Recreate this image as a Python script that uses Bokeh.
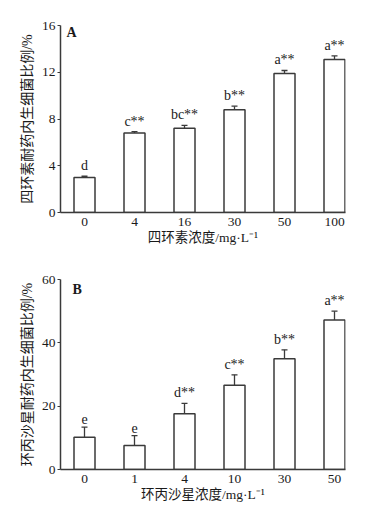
from bokeh.plotting import figure
from bokeh.layouts import column
from bokeh.models import Range1d, FixedTicker, ColumnDataSource, Label
from bokeh.embed import file_html
from bokeh.resources import INLINE
from bokeh.core.properties import value

# Panel A: tetracycline
a_cats = ["0", "4", "16", "30", "50", "100"]
a_vals = [3.0, 6.8, 7.2, 8.8, 11.9, 13.1]
a_errs = [0.1, 0.12, 0.25, 0.3, 0.25, 0.3]
a_sig = ["d", "c**", "bc**", "b**", "a**", "a**"]
a_ticks = [0, 4, 8, 12, 16]

# Panel B: ciprofloxacin
b_cats = ["0", "1", "4", "10", "30", "50"]
b_vals = [10.2, 7.6, 17.6, 26.6, 35.0, 47.2]
b_errs = [3.2, 3.1, 3.3, 3.3, 2.8, 2.8]
b_sig = ["e", "e", "d**", "c**", "b**", "a**"]
b_ticks = [0, 20, 40, 60]

SERIF = "'Liberation Serif', 'Times New Roman', serif"
MIXED = "'Liberation Serif', 'Noto Sans CJK SC', serif"
LINE = "#3a3a3a"
TXT = "#1a1a1a"


def panel(cats, vals, errs, sig, ticks, ymax, ylabel, xlabel, tag,
          height, top, bottom, tag_x, tag_y):
    n = len(cats)
    xs = list(range(n))
    src = ColumnDataSource(dict(
        x=xs, top=vals, err_top=[v + e for v, e in zip(vals, errs)],
        left=[x - 0.06 for x in xs], right=[x + 0.06 for x in xs],
        sig=sig))
    p = figure(width=360, height=height, output_backend="svg",
               toolbar_location=None,
               x_range=Range1d(-0.48, 5.22), y_range=Range1d(0, ymax),
               min_border_left=60, min_border_right=15,
               min_border_top=top, min_border_bottom=bottom)
    p.outline_line_color = None
    p.grid.grid_line_color = None
    p.background_fill_color = "white"

    p.vbar(x="x", top="top", bottom=0, width=0.42, source=src,
           fill_color="white", line_color=LINE, line_width=1.5)
    p.segment(x0="x", y0="top", x1="x", y1="err_top", source=src,
              line_color=LINE, line_width=1.3)
    p.segment(x0="left", y0="err_top", x1="right", y1="err_top", source=src,
              line_color=LINE, line_width=1.3)
    p.text(x="x", y="err_top", text="sig", source=src,
           text_align="center", text_baseline="bottom", y_offset=-3,
           text_font=value(SERIF), text_font_size="14px", text_color=TXT)

    p.xaxis.ticker = FixedTicker(ticks=xs)
    p.xaxis.major_label_overrides = {i: c for i, c in enumerate(cats)}
    p.xaxis.minor_tick_line_color = None
    p.yaxis.ticker = FixedTicker(ticks=ticks)
    p.yaxis.minor_tick_line_color = None
    p.yaxis.major_tick_in = 0
    p.yaxis.major_tick_out = 3
    for ax in (p.xaxis, p.yaxis):
        ax.axis_line_color = LINE
        ax.axis_line_width = 1.5
        ax.major_label_text_font = SERIF
        ax.major_label_text_font_size = "13.5px"
        ax.major_label_text_color = TXT
        ax.axis_label_text_font = MIXED
        ax.axis_label_text_font_style = "normal"
        ax.axis_label_text_color = TXT
    p.yaxis.major_tick_line_color = LINE
    p.xaxis.major_tick_line_color = None
    p.xaxis.major_tick_out = 0
    p.xaxis.major_tick_in = 0
    p.yaxis.axis_label_text_font_size = "14px"
    p.xaxis.axis_label_text_font_size = "13.5px"
    p.yaxis.major_label_standoff = 2
    p.xaxis.major_label_standoff = 5
    p.xaxis.axis_label_standoff = 1
    p.yaxis.axis_label_standoff = 4
    p.xaxis.axis_label = xlabel
    p.yaxis.axis_label = ylabel

    p.add_layout(Label(x=tag_x, y=tag_y, text=tag, text_font=SERIF,
                       text_font_size="14px", text_font_style="bold",
                       text_color=TXT, text_align="left",
                       text_baseline="middle"))
    return p


pa = panel(a_cats, a_vals, a_errs, a_sig, a_ticks, 16,
           "四环素耐药内生细菌比例/%", "四环素浓度/mg·L⁻¹", "A",
           254, 25, 42, -0.36, 15.4)
pb = panel(b_cats, b_vals, b_errs, b_sig, b_ticks, 60,
           "环丙沙星耐药内生细菌比例/%", "环丙沙星浓度/mg·L⁻¹", "B",
           257, 25, 42, -0.24, 56.8)

layout = column(pa, pb, spacing=0)
open("out.html", "w").write(file_html(layout, INLINE))
